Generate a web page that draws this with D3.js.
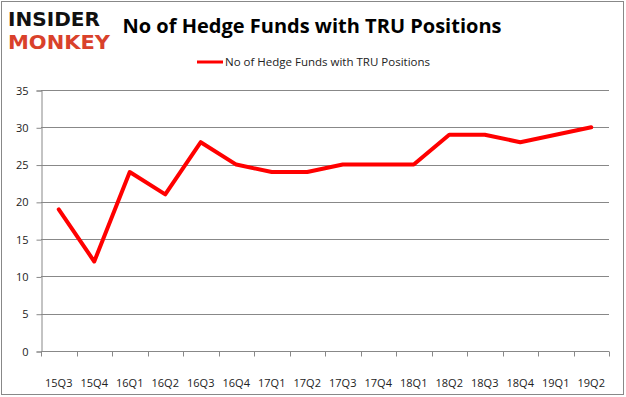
<!DOCTYPE html>
<html>
<head>
<meta charset="utf-8">
<script src="https://cdn.jsdelivr.net/npm/d3@7"></script>
<style>
  html, body { margin: 0; padding: 0; background: #fff; }
  svg { display: block; }
</style>
</head>
<body>
<div id="chart"></div>
<script>
const quarters = ["15Q3", "15Q4", "16Q1", "16Q2", "16Q3", "16Q4", "17Q1", "17Q2",
    "17Q3", "17Q4", "18Q1", "18Q2", "18Q3", "18Q4", "19Q1", "19Q2"];
const hedgeFunds = [19, 12, 24, 21, 28, 25, 24, 24, 25, 25, 25, 29, 29, 28, 29, 30];
const yTicks = [0, 5, 10, 15, 20, 25, 30, 35];
const seriesName = "No of Hedge Funds with TRU Positions";
const chartTitle = "No of Hedge Funds with TRU Positions";

(function() {
    const width = 626;
    const height = 397;
    const margin = { left: 41, right: 17, top: 90, bottom: 46 };
    const font = "'Open Sans', 'DejaVu Sans', sans-serif";

    const svg = d3.select("#chart")
        .append("svg")
        .attr("width", width)
        .attr("height", height);

    // outer frame
    svg.append("rect")
        .attr("x", 1.5)
        .attr("y", 1.5)
        .attr("width", 622)
        .attr("height", 393)
        .attr("fill", "#fff")
        .attr("stroke", "#888")
        .attr("stroke-width", 1);

    const x = d3.scaleBand()
        .domain(quarters)
        .range([margin.left, width - margin.right]);

    const y = d3.scaleLinear()
        .domain([0, 35])
        .range([height - margin.bottom, margin.top]);

    // gridlines
    svg.append("g")
        .selectAll("line")
        .data(yTicks.filter(d => d > 0))
        .enter().append("line")
        .attr("x1", margin.left)
        .attr("x2", width - margin.right)
        .attr("y1", d => Math.round(y(d)) + 0.5)
        .attr("y2", d => Math.round(y(d)) + 0.5)
        .attr("stroke", "#888");

    // y axis
    const yAxis = svg.append("g")
        .attr("transform", `translate(${margin.left + 0.5},0.5)`)
        .call(d3.axisLeft(y).tickValues(yTicks).tickSize(5).tickPadding(8));
    yAxis.select(".domain").attr("stroke", "#888");
    yAxis.selectAll(".tick line").attr("stroke", "#888");
    yAxis.selectAll(".tick text")
        .attr("fill", "#222")
        .style("font-family", font)
        .style("font-size", "11px");

    // x axis with ticks on band edges
    const xAxis = svg.append("g")
        .attr("transform", `translate(0,${Math.round(y(0)) + 0.5})`);
    xAxis.append("line")
        .attr("x1", margin.left)
        .attr("x2", width - margin.right)
        .attr("stroke", "#888");
    const edges = quarters.map(q => x(q)).concat([width - margin.right]);
    xAxis.selectAll("line.tk")
        .data(edges)
        .enter().append("line")
        .attr("class", "tk")
        .attr("x1", d => Math.round(d) + 0.5)
        .attr("x2", d => Math.round(d) + 0.5)
        .attr("y1", 0)
        .attr("y2", 5)
        .attr("stroke", "#888");
    xAxis.selectAll("text")
        .data(quarters)
        .enter().append("text")
        .attr("x", d => x(d) + x.bandwidth() / 2)
        .attr("y", 35)
        .attr("text-anchor", "middle")
        .attr("fill", "#222")
        .style("font-family", font)
        .style("font-size", "11px")
        .text(d => d);

    // series line
    const line = d3.line()
        .x((d, i) => x(quarters[i]) + x.bandwidth() / 2)
        .y(d => y(d));

    svg.append("path")
        .datum(hedgeFunds)
        .attr("d", line)
        .attr("fill", "none")
        .attr("stroke", "#ff0000")
        .attr("stroke-width", 4)
        .attr("stroke-linejoin", "round")
        .attr("stroke-linecap", "round");

    // title
    svg.append("text")
        .attr("x", 312)
        .attr("y", 33)
        .attr("text-anchor", "middle")
        .attr("textLength", 379)
        .attr("lengthAdjust", "spacingAndGlyphs")
        .style("font-family", font)
        .style("font-size", "20px")
        .style("font-weight", "bold")
        .attr("fill", "#000")
        .text(chartTitle);

    // legend
    svg.append("line")
        .attr("x1", 197)
        .attr("x2", 223)
        .attr("y1", 62)
        .attr("y2", 62)
        .attr("stroke", "#ff0000")
        .attr("stroke-width", 3);
    svg.append("text")
        .attr("x", 225)
        .attr("y", 66)
        .attr("textLength", 205)
        .attr("lengthAdjust", "spacingAndGlyphs")
        .style("font-family", font)
        .style("font-size", "11px")
        .attr("fill", "#222")
        .text(seriesName);

    // logo (smaller type so the two words don't collide)
    const logo = svg.append("g").style("font-family", "'DejaVu Sans', sans-serif")
        .style("font-weight", "bold");
    logo.append("text")
        .attr("x", 8)
        .attr("y", 26)
        .attr("textLength", 92)
        .attr("lengthAdjust", "spacingAndGlyphs")
        .style("font-size", "19px")
        .attr("fill", "#111")
        .text("INSIDER");
    logo.append("text")
        .attr("x", 8)
        .attr("y", 49)
        .attr("textLength", 102)
        .attr("lengthAdjust", "spacingAndGlyphs")
        .style("font-size", "19px")
        .attr("fill", "#d9412b")
        .text("MONKEY");
})();
</script>
</body>
</html>
